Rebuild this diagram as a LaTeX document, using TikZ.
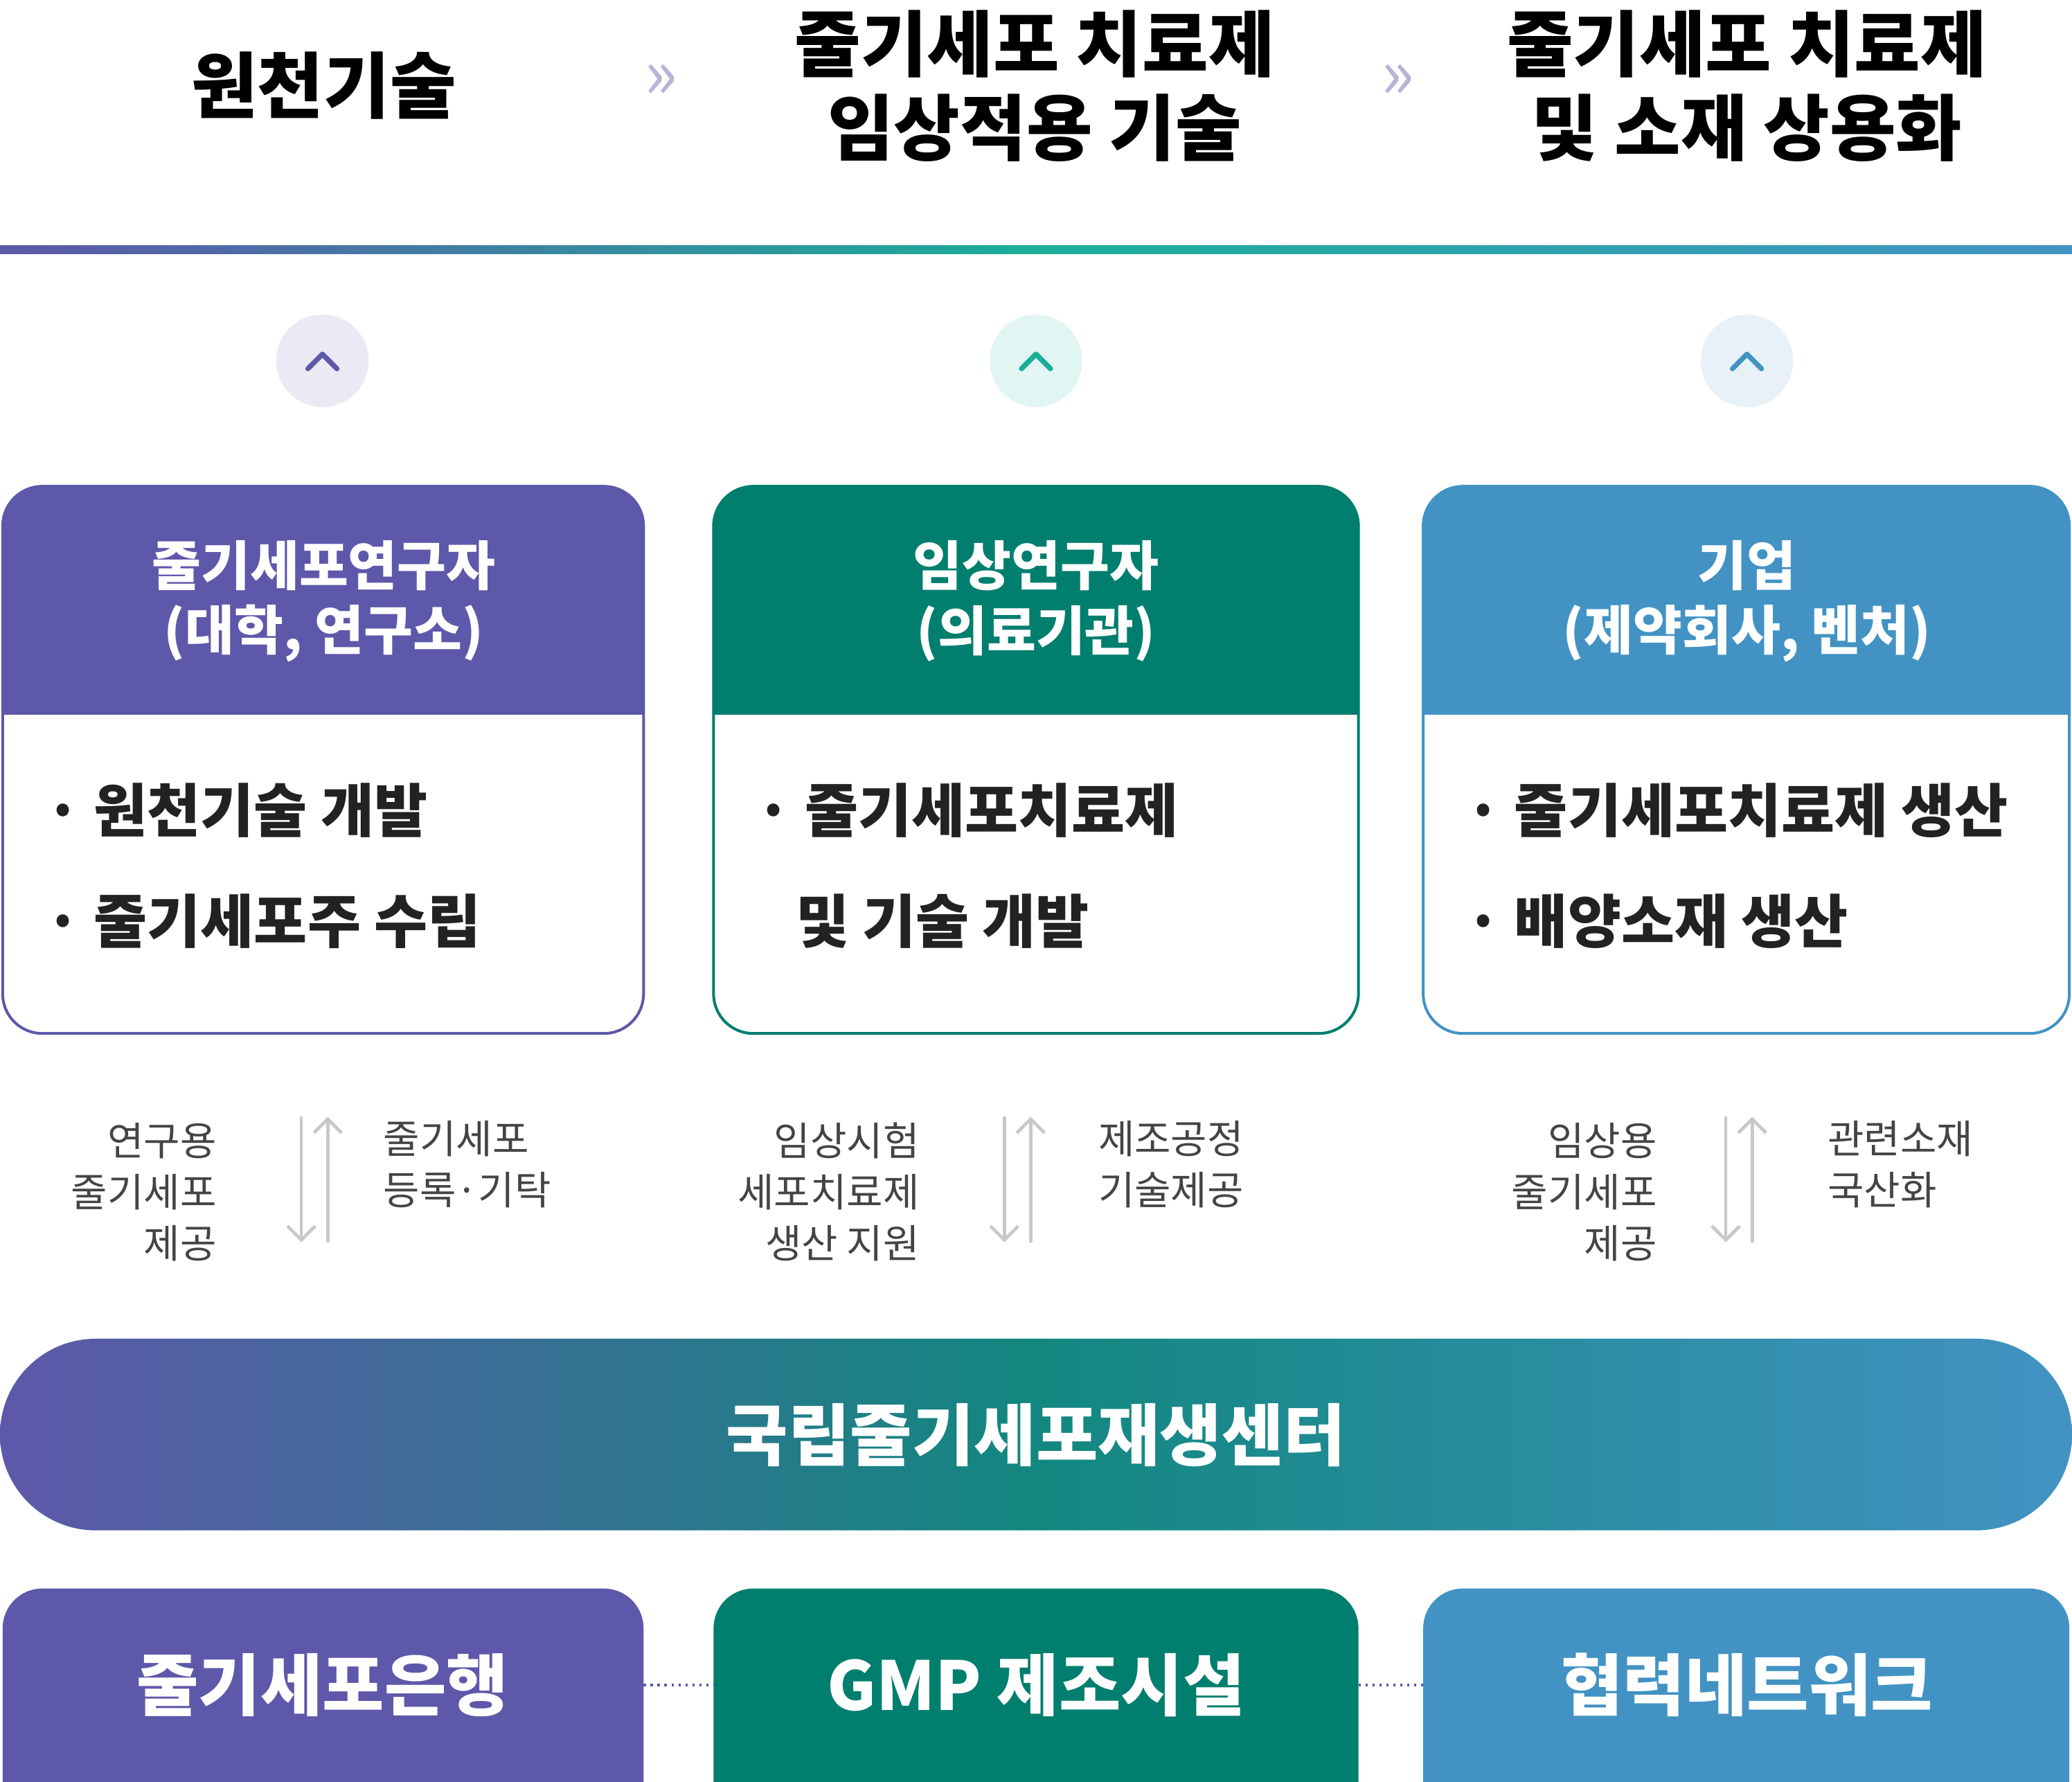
\documentclass[tikz,border=0pt]{standalone}
\usepackage{fontspec}
\setmainfont{Noto Sans CJK KR}
\usetikzlibrary{arrows.meta}
\definecolor{cpur}{HTML}{5E58AA}
\definecolor{cteal}{HTML}{007E6E}
\definecolor{cblue}{HTML}{4293C3}
\definecolor{cmint}{HTML}{1AAE98}
\definecolor{cgrad}{HTML}{12877F}
\definecolor{cdark}{HTML}{222222}
\definecolor{cgray}{HTML}{444444}
\definecolor{carr}{HTML}{C8C8C8}
\begin{document}
\begin{tikzpicture}[x=0.02cm,y=-0.02cm,
  title/.style={font=\bfseries\fontsize{31}{36}\selectfont,text=black,align=center},
  head/.style={font=\bfseries\fontsize{23}{28}\selectfont,text=white,align=center},
  body/.style={font=\bfseries\fontsize{25}{30}\selectfont,text=cdark,anchor=west},
  lab/.style={font=\fontsize{17}{22}\selectfont,text=cgray},
  bot/.style={font=\bfseries\fontsize{29}{34}\selectfont,text=white},
  chev/.style={font=\fontsize{30}{30}\selectfont,text=cpur!45},
  arr/.style={draw=carr,line width=1.4pt,-{Straight Barb[length=6pt,width=12pt]}}]
\useasboundingbox (0,0) rectangle (1568,1348);
\clip (0,0) rectangle (1568,1348);
% titles
\node[title] (t1) at (245,65) {원천기술};
\node[title] (t2) at (783,65) {줄기세포 치료제\\임상적용 기술};
\node[title] (t3) at (1322,65) {줄기세포 치료제\\및 소재 상용화};
\node[chev] (c1) at (500,62) {»};
\node[chev] (c2) at (1058,62) {»};
% gradient line
\shade[left color=cpur,right color=cblue,middle color=cmint] (0,186) rectangle (1568,192);
% circles
\foreach \x/\c/\n in {244/cpur/a,784/cmint/b,1322/cblue/c}{
  \fill[\c!13] (\x,273) circle (0.7cm);
  \draw[\c,line width=2.2pt,line cap=round,line join=round] (\x-11,279) -- (\x,268) -- (\x+11,279);
}
% boxes
\foreach \xa/\xb/\c in {2/487/cpur,540/1028/cteal,1077/1566/cblue}{
  \begin{scope}
  \clip[rounded corners=0.6cm] (\xa,368) rectangle (\xb,782);
  \fill[white] (\xa,368) rectangle (\xb,782);
  \fill[\c] (\xa,368) rectangle (\xb,541);
  \end{scope}
  \draw[\c,line width=1.2pt,rounded corners=0.6cm] (\xa,368) rectangle (\xb,782);
}
\node[head] (h1) at (245,455) {줄기세포연구자\\(대학, 연구소)};
\node[head] (h2) at (784,455) {임상연구자\\(의료기관)};
\node[head] (h3) at (1322,455) {기업\\(제약회사, 벤처)};
\node[body] (b1) at (28,613) {· 원천기술 개발};
\node[body] (b2) at (28,697) {· 줄기세포주 수립};
\node[body] (b3) at (566,613) {· 줄기세포치료제};
\node[body] (b4) at (596,697) {및 기술 개발};
\node[body] (b5) at (1103,613) {· 줄기세포치료제 생산};
\node[body] (b6) at (1103,697) {· 배양소재 생산};
% labels and arrows
\node[lab,align=right,anchor=east] (l1) at (170,902) {연구용\\줄기세포\\제공};
\node[lab,align=left,anchor=west] (r1) at (284,881) {줄기세포\\등록·기탁};
\node[lab,align=right,anchor=east] (l2) at (702,902) {임상시험\\세포치료제\\생산 지원};
\node[lab,align=left,anchor=west] (r2) at (825,881) {제조공정\\기술제공};
\node[lab,align=right,anchor=east] (l3) at (1260,902) {임상용\\줄기세포\\제공};
\node[lab,align=left,anchor=west] (r3) at (1377,881) {관련소재\\국산화};
\foreach \x in {228,760,1306}{
  \coordinate (d1\x) at (\x,845); \coordinate (d2\x) at (\x,940);
  \coordinate (u1\x) at (\x+20,940); \coordinate (u2\x) at (\x+20,845);
  \draw[arr] (d1\x) -- (d2\x);
  \draw[arr] (u1\x) -- (u2\x);
}
% pill
\shade[left color=cpur,right color=cblue,middle color=cgrad,rounded corners=1.45cm] (0,1013) rectangle (1568,1158);
\node[bot] (pill) at (784,1086) {국립줄기세포재생센터};
% bottom boxes
\fill[cpur,rounded corners=0.6cm] (2,1202) rectangle (487,1400);
\fill[cteal,rounded corners=0.6cm] (540,1202) rectangle (1028,1400);
\fill[cblue,rounded corners=0.6cm] (1077,1202) rectangle (1566,1400);
\coordinate (e1) at (487,1275); \coordinate (s2) at (540,1275);
\coordinate (e2) at (1028,1275); \coordinate (s3) at (1077,1275);
\draw[cpur,dotted,line width=1pt] (e1) -- (s2);
\draw[cpur,dotted,line width=1pt] (e2) -- (s3);
\node[bot] (g1) at (244,1275) {줄기세포은행};
\node[bot] (g2) at (784,1275) {GMP 제조시설};
\node[bot] (g3) at (1322,1275) {협력네트워크};
\end{tikzpicture}
\end{document}
